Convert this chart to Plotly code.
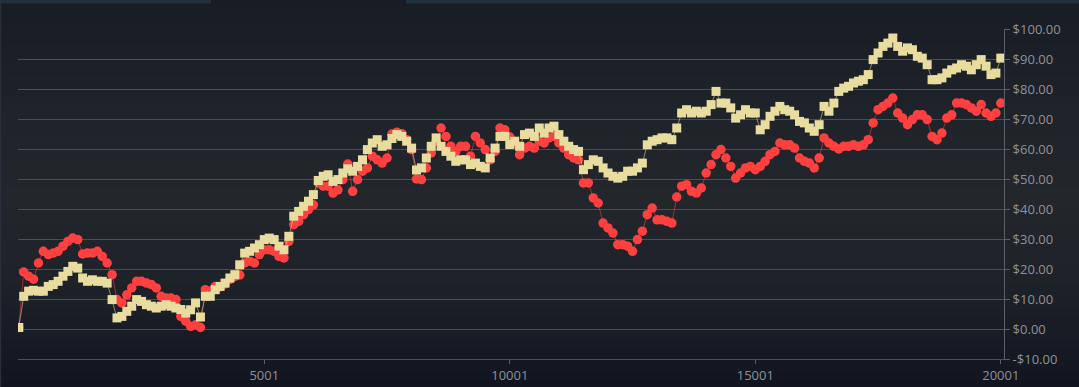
import plotly.graph_objects as go

step_index = list(range(1, 20002, 100))

series_squares = [
    0.5, 10.9, 12.6, 12.9, 12.6, 12.6, 14.2, 14.8, 15.9, 17.6,
    19.2, 20.9, 20.3, 17.0, 15.9, 16.4, 15.9, 15.9, 15.3, 9.8,
    3.7, 4.2, 5.9, 7.6, 9.8, 9.2, 8.1, 7.6, 7.0, 7.6,
    8.1, 7.6, 7.0, 6.5, 5.3, 6.4, 8.7, 4.0, 10.9, 10.9,
    13.1, 14.2, 15.3, 17.0, 18.1, 21.4, 25.3, 25.9, 27.0, 28.1,
    29.8, 30.3, 29.8, 27.6, 26.4, 30.9, 37.6, 39.2, 40.9, 42.6,
    44.8, 49.5, 50.9, 51.4, 49.2, 49.8, 52.0, 53.4, 52.6, 54.2,
    56.4, 59.8, 62.0, 63.1, 60.9, 61.4, 63.5, 64.8, 64.2, 62.6,
    60.3, 53.0, 53.7, 57.0, 60.9, 63.7, 60.9, 59.2, 57.6, 55.9,
    56.4, 56.4, 54.8, 55.3, 54.2, 53.7, 57.0, 60.3, 64.2, 64.2,
    61.5, 62.6, 60.9, 64.8, 65.3, 64.2, 67.0, 65.3, 67.0, 67.6,
    64.8, 62.6, 60.9, 59.8, 59.2, 53.1, 54.8, 56.4, 55.9, 53.7,
    52.0, 50.9, 50.3, 50.9, 52.6, 52.6, 53.7, 55.3, 61.4, 62.6,
    63.1, 63.7, 63.7, 63.1, 67.0, 72.0, 73.1, 72.0, 72.6, 72.0,
    72.6, 74.8, 79.2, 75.3, 75.3, 73.7, 70.3, 71.4, 73.1, 72.0,
    72.0, 66.4, 68.1, 70.9, 72.6, 74.2, 73.1, 72.6, 71.4, 69.2,
    68.7, 67.0, 65.9, 68.1, 74.2, 72.6, 75.3, 79.2, 80.3, 80.9,
    82.0, 82.6, 83.1, 84.8, 89.8, 92.0, 94.2, 95.3, 97.0, 94.2,
    92.6, 93.7, 93.1, 90.9, 90.3, 88.1, 83.1, 83.1, 83.7, 85.3,
    86.4, 87.0, 88.1, 87.6, 86.4, 88.1, 89.8, 87.6, 84.8, 85.3,
    90.3,
]

series_circles = [
    0.5, 19.0, 17.6, 16.6, 22.0, 25.9, 24.8, 25.3, 25.9, 27.6,
    29.2, 30.3, 29.8, 25.0, 25.3, 25.3, 25.9, 24.2, 22.0, 18.1,
    9.8, 8.7, 11.4, 13.7, 15.9, 15.9, 15.3, 14.8, 13.7, 10.9,
    10.3, 10.3, 9.8, 4.2, 2.6, 0.9, 1.4, 0.5, 13.1, 12.6,
    14.2, 14.0, 15.0, 16.5, 17.5, 18.0, 22.0, 22.6, 22.0, 24.8,
    26.4, 26.4, 25.9, 24.2, 23.7, 29.2, 34.8, 35.9, 38.1, 39.8,
    41.4, 48.7, 47.6, 47.6, 45.3, 46.4, 49.8, 55.0, 45.9, 49.8,
    52.6, 53.7, 57.6, 56.4, 55.3, 57.0, 65.0, 65.6, 65.1, 63.1,
    59.8, 50.0, 49.8, 53.7, 58.7, 62.6, 67.0, 64.2, 60.9, 59.2,
    60.9, 60.9, 57.6, 64.2, 62.0, 59.8, 56.4, 59.2, 67.0, 66.4,
    64.0, 62.0, 58.1, 60.3, 60.9, 60.3, 62.6, 62.0, 63.7, 64.2,
    62.0, 60.3, 58.1, 57.0, 56.4, 48.7, 48.7, 43.7, 42.0, 35.3,
    33.7, 32.0, 28.1, 28.1, 27.6, 25.9, 29.8, 32.6, 38.1, 40.3,
    36.4, 36.4, 35.9, 35.3, 44.0, 47.6, 48.1, 45.9, 45.3, 47.0,
    52.0, 54.8, 58.1, 59.8, 57.0, 54.2, 50.3, 52.0, 53.7, 54.2,
    53.1, 54.2, 55.9, 58.1, 59.2, 62.0, 61.4, 61.4, 60.3, 57.0,
    55.9, 55.3, 53.7, 57.0, 63.7, 62.0, 60.9, 60.0, 60.9, 60.9,
    61.4, 60.9, 61.4, 63.1, 68.7, 73.1, 74.2, 75.3, 77.0, 72.0,
    70.3, 68.1, 69.8, 71.4, 71.4, 69.8, 64.2, 63.1, 65.3, 70.3,
    71.4, 75.3, 75.3, 74.8, 73.7, 72.6, 74.8, 72.0, 70.9, 72.0,
    75.3,
]

y_tick_values = [-10, 0, 10, 20, 30, 40, 50, 60, 70, 80, 90, 100]
y_tick_labels = ["-$10.00", "$0.00", "$10.00", "$20.00", "$30.00", "$40.00",
                 "$50.00", "$60.00", "$70.00", "$80.00", "$90.00", "$100.00"]
x_tick_values = [5001, 10001, 15001, 20001]
x_tick_labels = ["5001", "10001", "15001", "20001"]

# ---- figure ----
W, H = 1079, 387
ML, MR, MT, MB = 18, 75, 29, 28
PW, PH = W - ML - MR, H - MT - MB

def px_x(p):
    return (p - ML) / PW

def px_y(p):
    return (H - MB - p) / PH

fig = go.Figure()

fig.add_trace(go.Scatter(
    x=step_index, y=series_circles, mode="lines+markers",
    line=dict(color="rgba(255,64,64,0.55)", width=1),
    marker=dict(symbol="circle", size=9.5, color="#ff4040"),
    name="series 2", showlegend=False, hoverinfo="skip",
))
fig.add_trace(go.Scatter(
    x=step_index, y=series_squares, mode="lines+markers",
    line=dict(color="rgba(233,220,159,0.55)", width=1),
    marker=dict(symbol="square", size=9, color="#e9dc9f"),
    name="series 1", showlegend=False, hoverinfo="skip",
))

# background gradient built from horizontal bands (darker top/bottom, lighter middle)
stops = [(0, (24, 29, 37)), (120, (31, 36, 42)), (200, (35, 39, 44)),
         (280, (30, 34, 41)), (387, (18, 21, 32))]
shapes = []
nb = 60
for i in range(nb):
    y0p = H * i / nb
    y1p = H * (i + 1) / nb
    ym = (y0p + y1p) / 2
    for j in range(len(stops) - 1):
        a, ca = stops[j]
        b, cb = stops[j + 1]
        if a <= ym <= b:
            t = (ym - a) / (b - a)
            c = tuple(int(round(ca[k] + (cb[k] - ca[k]) * t)) for k in range(3))
            break
    shapes.append(dict(type="rect", xref="paper", yref="paper", layer="below",
                       x0=px_x(0), x1=px_x(W), y0=px_y(y1p + 0.5), y1=px_y(y0p - 0.5),
                       line=dict(width=0), fillcolor="rgb(%d,%d,%d)" % c))
# top tab strip
shapes.append(dict(type="rect", xref="paper", yref="paper", layer="below",
                   x0=px_x(0), x1=px_x(211), y0=px_y(3.5), y1=px_y(0),
                   line=dict(width=0), fillcolor="#21303f"))
shapes.append(dict(type="rect", xref="paper", yref="paper", layer="below",
                   x0=px_x(406), x1=px_x(W), y0=px_y(3.5), y1=px_y(0),
                   line=dict(width=0), fillcolor="#21303f"))
# left edge line
shapes.append(dict(type="rect", xref="paper", yref="paper", layer="below",
                   x0=px_x(0), x1=px_x(1.2), y0=px_y(H), y1=px_y(3.5),
                   line=dict(width=0), fillcolor="#27303b"))

fig.update_layout(
    width=W, height=H,
    margin=dict(l=ML, r=MR, t=MT, b=MB, autoexpand=False),
    paper_bgcolor="#1c2028",
    plot_bgcolor="rgba(0,0,0,0)",
    shapes=shapes,
    showlegend=False,
    font=dict(family="Open Sans, sans-serif", size=13, color="#8c9199"),
    xaxis=dict(
        range=[-15, 20066], showgrid=False, zeroline=False, automargin=False,
        showline=True, linecolor="#4c5159", linewidth=1,
        tickmode="array", tickvals=x_tick_values, ticktext=x_tick_labels,
        ticks="outside", ticklen=4, tickcolor="#5a6068",
        tickfont=dict(size=13, color="#8c9199"),
    ),
    yaxis=dict(
        range=[-10, 100], side="right", showgrid=True, gridcolor="#4a4f57",
        gridwidth=1, zeroline=False, automargin=False,
        showline=True, linecolor="#5a6068", linewidth=1,
        tickmode="array", tickvals=y_tick_values, ticktext=y_tick_labels,
        ticks="outside", ticklen=5, tickcolor="#5a6068",
        tickfont=dict(size=13, color="#8c9199"),
    ),
)

fig.write_html("out.html")
